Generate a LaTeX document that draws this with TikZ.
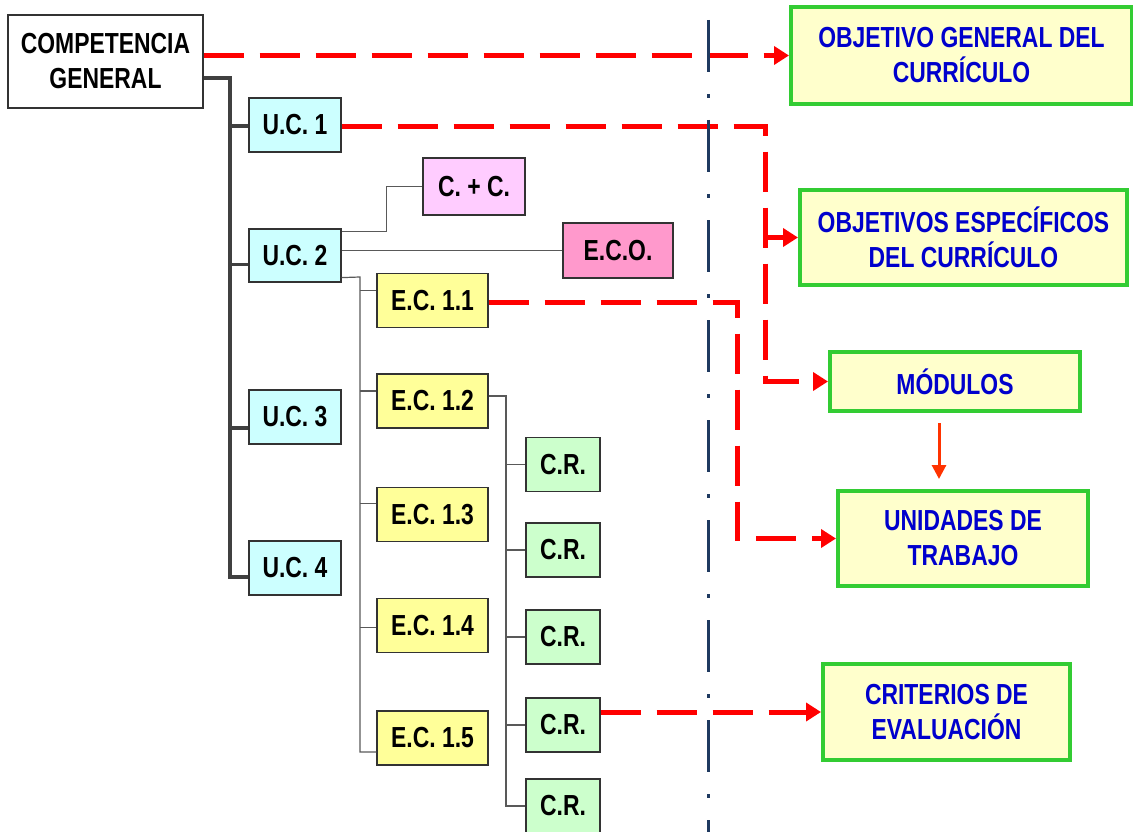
\documentclass[tikz,border=0pt]{standalone}
\usepackage{fontspec}
\setmainfont{Liberation Sans}[FakeStretch=0.79]
\usetikzlibrary{calc,arrows.meta}
\definecolor{ucfill}{HTML}{CCFFFF}
\definecolor{ccfill}{HTML}{FFCCFF}
\definecolor{ecofill}{HTML}{FF99CC}
\definecolor{ecfill}{HTML}{FFFF99}
\definecolor{crfill}{HTML}{CCFFCC}
\definecolor{goalfill}{HTML}{FFFFCC}
\definecolor{goalgreen}{HTML}{33CC33}
\definecolor{goalblue}{HTML}{0000CC}
\definecolor{axisnavy}{HTML}{1F3A60}
\definecolor{arrowred}{HTML}{FF3300}
\def\redlink{\draw[redlink]}
\def\treeline{\draw[gray!70!black, line width=1.2pt]}
\def\trunkline{\draw[black!75, line width=3.5pt]}

\begin{document}
\begin{tikzpicture}[x=1pt,y=-1pt,
  bigfont/.style={font=\bfseries\fontsize{29}{35}\selectfont},
  leftbox/.style={bigfont, draw=black!80, line width=1.2pt, inner sep=0pt, align=center},
  goalbox/.style={bigfont, draw=goalgreen, line width=4pt, fill=goalfill, text=goalblue, inner sep=0pt, align=center},
  redlink/.style={red, line width=5pt, dash pattern=on 40pt off 16pt, -{Triangle[length=15pt,width=18pt]}}]
\useasboundingbox (0,0) rectangle (1133,832);

% left column
\node[leftbox, fill=white, minimum width=195pt, minimum height=93pt] (comp) at (105.5,61.5) {COMPETENCIA\\GENERAL};
\node[leftbox, fill=ucfill, minimum width=92pt, minimum height=54pt] (uc1) at (295,125) {U.C. 1};
\node[leftbox, fill=ucfill, minimum width=92pt, minimum height=53pt] (uc2) at (295,255.5) {U.C. 2};
\node[leftbox, fill=ucfill, minimum width=92pt, minimum height=54pt] (uc3) at (295,417) {U.C. 3};
\node[leftbox, fill=ucfill, minimum width=92pt, minimum height=54pt] (uc4) at (295,568) {U.C. 4};
\node[leftbox, fill=ccfill, minimum width=102pt, minimum height=57pt] (cc) at (474,186.5) {C. + C.};
\node[leftbox, fill=ecofill, minimum width=110pt, minimum height=55pt] (eco) at (618,250.5) {E.C.O.};

% E.C. column (coordinates are the box centres)
\foreach \n/\lab/\y in {11/1.1/300.5, 12/1.2/401, 13/1.3/514.5, 14/1.4/625.5, 15/1.5/738}
  \node[leftbox, fill=ecfill, minimum width=111pt, minimum height=54pt] (ec\n) at (432.5,\y) {E.C. \lab};

% C.R. column
\foreach \i/\y in {1/464.5, 2/550, 3/637, 4/725, 5/806}
  \node[leftbox, fill=crfill, minimum width=74pt, minimum height=54pt] (cr\i) at (563,\y) {C.R.};

% right column
\node[goalbox, minimum width=341pt, minimum height=97pt] (objgen) at (961.5,55.5) {OBJETIVO GENERAL DEL\\CURRÍCULO};
\node[goalbox, minimum width=327pt, minimum height=95pt] (objesp) at (963.5,237.5) {OBJETIVOS ESPECÍFICOS\\DEL CURRÍCULO};
\node[goalbox, minimum width=250pt, minimum height=59pt] (mod) at (955,381.5) {MÓDULOS};
\node[goalbox, minimum width=250pt, minimum height=95pt] (uni) at (963,538.5) {UNIDADES DE\\TRABAJO};
\node[goalbox, minimum width=247pt, minimum height=96pt] (crit) at (946.5,712) {CRITERIOS DE\\EVALUACIÓN};

% trunk from the competence to the U.C.
\coordinate (tr) at (230,78);
\foreach \n/\dy in {uc1/1, uc2/9, uc3/11, uc4/9}
  \coordinate (br\n) at ($(\n.west)+(0,\dy)$);
\trunkline (tr -| comp.east) -- (tr) |- (bruc4);
\foreach \n in {uc1,uc2,uc3}
  \trunkline (tr |- br\n) -- (br\n);

% thin branches out of U.C. 2
\treeline ($(uc2.north east)+(0,3)$) -| ($(cc.west)+(-36,0)$) -- (cc.west);
\treeline (uc2.east |- eco.west) -- (eco.west);
\coordinate (ecs) at (360,277);
\foreach \n/\dy in {11/-10, 12/-10, 13/-11, 14/2, 15/14}
  \coordinate (brec\n) at ($(ec\n.west)+(0,\dy)$);
\treeline ($(uc2.south east)+(0,-5)$) -- (ecs) |- (brec15);
\foreach \n in {11,12,13,14}
  \treeline (ecs |- brec\n) -- (brec\n);

% criteria under E.C. 1.2
\coordinate (crs) at (506,396);
\treeline (ec12.east |- crs) -- (crs) |- (cr5.west);
\foreach \i in {1,2,3,4}
  \treeline (crs |- cr\i.west) -- (cr\i.west);

% red links to the curriculum
\redlink (comp.east |- objgen.west) -- (objgen.west);
\coordinate (bendA) at (765,127);
\redlink (uc1.east |- bendA) -- (bendA) |- (mod.west);
\redlink (bendA |- objesp.west) -- (objesp.west);
\coordinate (bendB) at (737,302);
\redlink (ec11.east |- bendB) -- (bendB) |- (uni.west);
\redlink (cr4.east |- crit.west) -- (crit.west);
\draw[arrowred, line width=3pt, -{Triangle[length=14pt,width=14pt]}] ($(mod.south)+(-16,10)$) -- ($(uni.north)+(-24,-10)$);

% dash-dot divider
\draw[axisnavy, line width=3pt, dash pattern=on 52pt off 22pt on 4pt off 22pt] (708,20) -- (708,840);
\end{tikzpicture}
\end{document}
